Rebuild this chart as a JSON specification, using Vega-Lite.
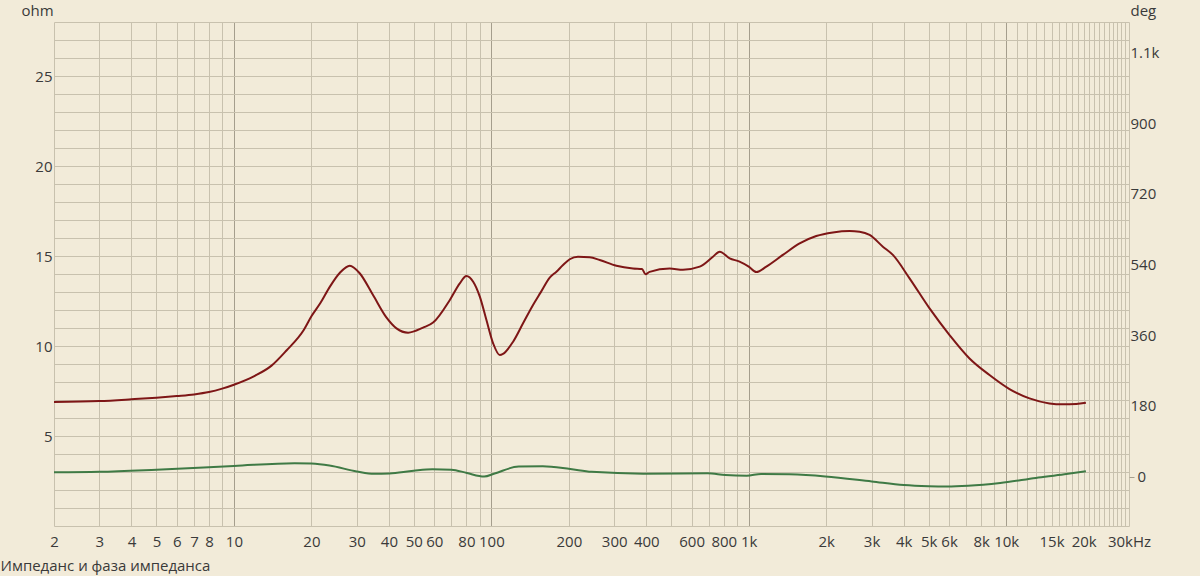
{
  "$schema": "https://vega.github.io/schema/vega-lite/v6.json",
  "width": 1075,
  "height": 504,
  "autosize": "none",
  "padding": {"left": 54, "top": 22, "right": 71, "bottom": 50},
  "background": "#F2EBD9",
  "config": {
    "view": {"stroke": null},
    "font": "Open Sans",
    "axis": {"labelFont": "Open Sans", "titleFont": "Open Sans", "labelColor": "#3a3a3a", "titleColor": "#3a3a3a", "titleFontWeight": "normal"}
  },
  "datasets": {
    "imp": [
      {"f": 2, "v": 6.89}, {"f": 3, "v": 6.94}, {"f": 4, "v": 7.04}, {"f": 5, "v": 7.13},
      {"f": 6, "v": 7.22}, {"f": 7, "v": 7.31}, {"f": 8, "v": 7.44}, {"f": 9, "v": 7.63},
      {"f": 10, "v": 7.85}, {"f": 12, "v": 8.33}, {"f": 14, "v": 8.91}, {"f": 16, "v": 9.75},
      {"f": 18.7, "v": 10.9}, {"f": 20, "v": 11.65}, {"f": 21.7, "v": 12.4}, {"f": 23.6, "v": 13.3},
      {"f": 25.8, "v": 14.07}, {"f": 28.2, "v": 14.46}, {"f": 30.8, "v": 14.04}, {"f": 34.7, "v": 12.83},
      {"f": 39.1, "v": 11.59}, {"f": 42.8, "v": 10.98}, {"f": 47.5, "v": 10.74}, {"f": 54.3, "v": 11.02},
      {"f": 59.4, "v": 11.3}, {"f": 69, "v": 12.56}, {"f": 75.4, "v": 13.48}, {"f": 80, "v": 13.89},
      {"f": 85, "v": 13.57}, {"f": 90.2, "v": 12.74}, {"f": 95.7, "v": 11.44}, {"f": 101.6, "v": 10.15},
      {"f": 107.8, "v": 9.5}, {"f": 111, "v": 9.56}, {"f": 121.5, "v": 10.24}, {"f": 132.8, "v": 11.26},
      {"f": 145.2, "v": 12.28}, {"f": 155.5, "v": 12.98}, {"f": 168.6, "v": 13.8}, {"f": 179, "v": 14.13},
      {"f": 189.9, "v": 14.5}, {"f": 201.6, "v": 14.82}, {"f": 217, "v": 14.96}, {"f": 241, "v": 14.93},
      {"f": 263.6, "v": 14.78}, {"f": 306, "v": 14.46}, {"f": 355, "v": 14.31}, {"f": 385, "v": 14.28},
      {"f": 397, "v": 13.98}, {"f": 412, "v": 14.12}, {"f": 493, "v": 14.3}, {"f": 555, "v": 14.24},
      {"f": 645, "v": 14.41}, {"f": 726, "v": 14.96}, {"f": 771, "v": 15.24}, {"f": 843, "v": 14.87},
      {"f": 921, "v": 14.69}, {"f": 1000, "v": 14.41}, {"f": 1070, "v": 14.11}, {"f": 1170, "v": 14.41},
      {"f": 1357, "v": 15.06}, {"f": 1576, "v": 15.7}, {"f": 1829, "v": 16.11}, {"f": 2122, "v": 16.31},
      {"f": 2465, "v": 16.39}, {"f": 2695, "v": 16.35}, {"f": 2947, "v": 16.17}, {"f": 3319, "v": 15.52},
      {"f": 3629, "v": 15.06}, {"f": 4213, "v": 13.76}, {"f": 5039, "v": 12.09}, {"f": 6026, "v": 10.61},
      {"f": 7204, "v": 9.31}, {"f": 8614, "v": 8.39}, {"f": 10300, "v": 7.61}, {"f": 12320, "v": 7.09},
      {"f": 14730, "v": 6.81}, {"f": 16600, "v": 6.76}, {"f": 18710, "v": 6.78}, {"f": 20400, "v": 6.85}
    ],
    "phase": [
      {"f": 2, "v": 11}, {"f": 3, "v": 12.2}, {"f": 5, "v": 17.6}, {"f": 10, "v": 27},
      {"f": 17.2, "v": 34}, {"f": 20, "v": 33}, {"f": 23.5, "v": 28}, {"f": 30, "v": 13},
      {"f": 35, "v": 6.9}, {"f": 40.2, "v": 7.9}, {"f": 49.9, "v": 14.8}, {"f": 59.1, "v": 18.3},
      {"f": 70, "v": 17.6}, {"f": 80.4, "v": 8.9}, {"f": 93.8, "v": 0}, {"f": 103, "v": 7.9},
      {"f": 127.7, "v": 25.5}, {"f": 158.4, "v": 26.2}, {"f": 202.5, "v": 19.1}, {"f": 245, "v": 12},
      {"f": 389, "v": 7.4}, {"f": 692, "v": 8.4}, {"f": 811, "v": 3.8}, {"f": 982, "v": 2},
      {"f": 1116, "v": 6.6}, {"f": 1441, "v": 5.6}, {"f": 1983, "v": 0.3}, {"f": 3003, "v": -12.5},
      {"f": 4004, "v": -21.6}, {"f": 5006, "v": -24.5}, {"f": 5870, "v": -25.2}, {"f": 7115, "v": -23.4},
      {"f": 9480, "v": -16.3}, {"f": 13045, "v": -3.6}, {"f": 16840, "v": 5.6}, {"f": 20400, "v": 13.5}
    ]
  },
  "encoding": {
    "x": {
      "field": "f",
      "type": "quantitative",
      "scale": {"type": "log", "domain": [2, 30000], "nice": false},
      "axis": {
        "title": "Импеданс и фаза импеданса",
        "titleFontSize": 15,
        "titleAnchor": "start",
        "titleAlign": "left",
        "titleX": -54,
        "titleY": 39,
        "titleBaseline": "middle",
        "values": [2,3,4,5,6,7,8,9,10,20,30,40,50,60,70,80,90,100,200,300,400,500,600,700,800,900,1000,2000,3000,4000,5000,6000,7000,8000,9000,10000,11000,12000,13000,14000,15000,16000,17000,18000,19000,20000,21000,22000,23000,24000,25000,26000,27000,28000,29000,30000],
        "labelExpr": "indexof([2,3,4,5,6,7,8,10,20,30,40,50,60,80,100,200,300,400,600,800,1000,2000,3000,4000,5000,6000,8000,10000,15000,20000,30000], datum.value) >= 0 ? (datum.value >= 1000 ? (datum.value / 1000) + 'k' : '' + datum.value) + (datum.value == 30000 ? 'Hz' : '') : ''",
        "labelFontSize": 15,
        "labelPadding": 8,
        "labelOverlap": false,
        "labelFlush": false,
        "labelBound": false,
        "ticks": false,
        "domain": false,
        "grid": true,
        "gridColor": {"condition": {"test": "datum.value == 10 || datum.value == 100 || datum.value == 1000 || datum.value == 10000", "value": "#A59E8D"}, "value": "#C8C1AE"},
        "gridWidth": 1
      }
    }
  },
  "layer": [
    {
      "data": {"name": "imp"},
      "mark": {"type": "line", "color": "#7E1616", "strokeWidth": 2, "interpolate": "monotone"},
      "encoding": {
        "y": {
          "field": "v",
          "type": "quantitative",
          "scale": {"domain": [0, 28], "nice": false, "zero": false},
          "axis": {
            "orient": "left",
            "title": "ohm",
            "titleAngle": 0,
            "titleFontSize": 15,
            "titleAlign": "center",
            "titleBaseline": "middle",
            "titleX": -17,
            "titleY": -12,
            "values": [0,1,2,3,4,5,6,7,8,9,10,11,12,13,14,15,16,17,18,19,20,21,22,23,24,25,26,27,28],
            "labelExpr": "(datum.value % 5 == 0 && datum.value > 0) ? '' + datum.value : ''",
            "labelFontSize": 15,
            "labelPadding": 2,
            "labelOverlap": false,
            "labelFlush": false,
            "ticks": false,
            "domain": false,
            "grid": true,
            "gridColor": "#C8C1AE"
          }
        }
      }
    },
    {
      "data": {"name": "phase"},
      "mark": {"type": "line", "color": "#3F7A45", "strokeWidth": 2, "interpolate": "monotone"},
      "encoding": {
        "y": {
          "field": "v",
          "type": "quantitative",
          "scale": {"domain": [-126, 1158], "nice": false, "zero": false},
          "axis": {
            "orient": "right",
            "title": "deg",
            "titleAngle": 0,
            "titleFontSize": 15,
            "titleAlign": "left",
            "titleBaseline": "middle",
            "titleX": 1,
            "titleY": -12,
            "values": [0, 180, 360, 540, 720, 900, 1080],
            "labelExpr": "datum.value >= 1000 ? '1.1k' : '' + datum.value",
            "labelFontSize": 15,
            "labelPadding": {"condition": {"test": "datum.value == 0", "value": 3}, "value": -4},
            "labelOverlap": false,
            "labelFlush": false,
            "ticks": true,
            "tickSize": 5,
            "tickColor": {"condition": {"test": "datum.value == 0", "value": "#A59E8D"}, "value": "transparent"},
            "domain": false,
            "grid": false
          }
        }
      }
    }
  ],
  "resolve": {"scale": {"y": "independent"}}
}
